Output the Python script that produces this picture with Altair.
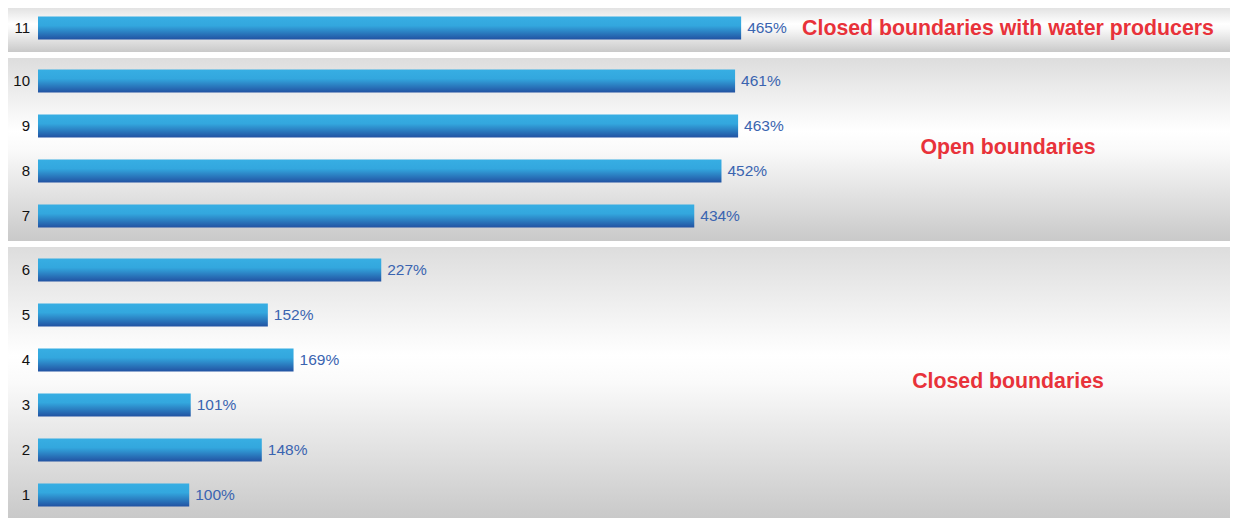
import altair as alt
import pandas as pd

# Data
cases = [11, 10, 9, 8, 7, 6, 5, 4, 3, 2, 1]
values = [465, 461, 463, 452, 434, 227, 152, 169, 101, 148, 100]
groups = ["A", "B", "B", "B", "B", "C", "C", "C", "C", "C", "C"]
group_names = ["A", "B", "C"]
group_labels = ["Closed boundaries with water producers", "Open boundaries", "Closed boundaries"]

df = pd.DataFrame({"case": [str(c) for c in cases], "value": values, "group": groups})
df["label"] = df["value"].astype(str) + "%"

# layout (styles)
W = 1222
STEP = 45
X_DOMAIN = [-19.84, 788.3]
PANEL_H = [47, 183, 271]
TITLE_Y = [24, 90, 135]

bar_grad = alt.Gradient(
    gradient="linear", x1=0, y1=0, x2=0, y2=1,
    stops=[alt.GradientStop(color="#37aee3", offset=0),
           alt.GradientStop(color="#33a7de", offset=0.4),
           alt.GradientStop(color="#2252a2", offset=1)],
)
bg_grad = alt.Gradient(
    gradient="linear", x1=0, y1=0, x2=0, y2=1,
    stops=[alt.GradientStop(color="#dddddd", offset=0),
           alt.GradientStop(color="#ffffff", offset=0.4),
           alt.GradientStop(color="#fafafa", offset=0.5),
           alt.GradientStop(color="#c9c9c9", offset=1)],
)

FONT = "Liberation Sans"


def panel(gname, glabel, H, ty):
    sub = df[df["group"] == gname]
    n = len(sub)
    order = list(sub["case"])
    yenc = alt.Y("case:N", sort=order, axis=None,
                 scale=alt.Scale(range=[0, STEP * n + 1],
                                 paddingInner=0.4889, paddingOuter=0.2556))
    xscale = alt.Scale(domain=X_DOMAIN, nice=False, zero=False)

    bg = alt.Chart(alt.Data(values=[{"k": 1}])).mark_rect(color=bg_grad).encode(
        x=alt.value(0), x2=alt.value(W), y=alt.value(0), y2=alt.value(H)
    )
    base = alt.Chart(sub)
    bars = base.mark_bar(color=bar_grad).encode(
        x=alt.X("zero:Q", scale=xscale, axis=None),
        x2="value:Q",
        y=yenc,
    ).transform_calculate(zero="0")
    vals = base.mark_text(align="left", baseline="middle", dx=6, font=FONT,
                          fontSize=15.5, color="#3a64b0").encode(
        x=alt.X("value:Q", scale=xscale, axis=None), y=yenc, text="label:N"
    )
    cats = base.mark_text(align="right", baseline="middle", font=FONT,
                          fontSize=15, color="#111111").encode(
        x=alt.value(22), y=yenc, text="case:N"
    )
    title = alt.Chart(alt.Data(values=[{"t": glabel}])).mark_text(
        align="center", baseline="middle", font=FONT, fontSize=21.3,
        fontWeight="bold", color="#e8323a"
    ).encode(x=alt.value(1000), y=alt.value(ty), text="t:N")
    return alt.layer(bg, bars, vals, cats, title).properties(width=W, height=H)


panels = [panel(g, l, h, t) for g, l, h, t in zip(group_names, group_labels, PANEL_H, TITLE_Y)]

chart = alt.vconcat(*panels, spacing=6).properties(
    padding={"top": -3, "left": 0, "right": 0, "bottom": 0}
).configure_view(stroke=None)

chart.save("out.html", embed_options={"renderer": "svg", "actions": False})
